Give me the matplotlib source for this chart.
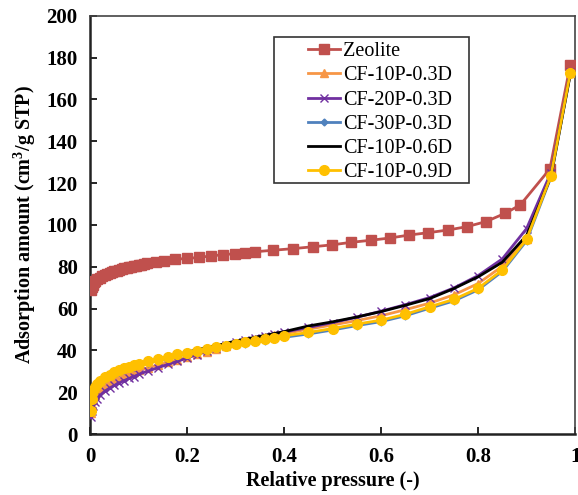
import matplotlib.pyplot as plt
from matplotlib.patches import Rectangle

plt.rcParams['font.family'] = ['Liberation Serif', 'DejaVu Serif']
plt.rcParams['mathtext.fontset'] = 'custom'
plt.rcParams['mathtext.rm'] = 'Liberation Serif'
plt.rcParams['mathtext.bf'] = 'Liberation Serif:bold'

# zeolite isotherm
p_zeo = [0.001, 0.003, 0.005, 0.008, 0.01, 0.015, 0.02, 0.025, 0.03, 0.035,
         0.04, 0.045, 0.05, 0.055, 0.06, 0.065, 0.07, 0.075, 0.08, 0.085,
         0.09, 0.095, 0.1, 0.105, 0.11, 0.118, 0.136, 0.153, 0.175, 0.2,
         0.225, 0.249, 0.274, 0.299, 0.32, 0.34, 0.377, 0.419, 0.46, 0.499,
         0.538, 0.579, 0.619, 0.658, 0.697, 0.738, 0.777, 0.816, 0.856, 0.887,
         0.948, 0.99]
q_zeo = [69.0, 70.5, 71.5, 72.5, 73.0, 74.0, 74.8, 75.4, 76.0, 76.5,
         77.0, 77.4, 77.8, 78.2, 78.6, 78.9, 79.2, 79.5, 79.8, 80.0,
         80.3, 80.5, 80.8, 81.0, 81.3, 81.8, 82.4, 82.9, 83.6, 84.0,
         84.5, 85.2, 85.8, 86.3, 86.7, 87.2, 87.9, 88.7, 89.6, 90.5,
         91.7, 92.7, 93.8, 95.2, 96.3, 97.6, 99.2, 101.6, 105.6, 109.6,
         126.8, 176.6]

# composite foams, common pressure points
p_cf = [0.001, 0.003, 0.006, 0.01, 0.015, 0.02, 0.03, 0.04, 0.05, 0.06,
        0.07, 0.08, 0.09, 0.1, 0.12, 0.14, 0.16, 0.18, 0.2, 0.22,
        0.24, 0.26, 0.28, 0.3, 0.32, 0.34, 0.36, 0.38, 0.4, 0.45,
        0.5, 0.55, 0.6, 0.65, 0.7, 0.75, 0.8, 0.85, 0.9, 0.95, 0.99]

q_10p_03d = [10.0, 14.0, 16.5, 18.5, 20.0, 21.5, 23.5, 25.0, 26.2, 27.2,
             28.2, 29.0, 29.8, 30.5, 31.8, 33.0, 34.3, 35.5, 36.8, 38.1,
             39.5, 40.9, 42.3, 43.6, 44.6, 45.5, 46.4, 47.2, 48.0, 50.2,
             52.2, 54.3, 56.6, 59.5, 62.6, 66.6, 72.0, 80.3, 93.5, 124.0, 172.5]
q_20p_03d = [8.0, 11.0, 13.5, 15.5, 17.0, 18.5, 20.5, 22.0, 23.3, 24.5,
             25.6, 26.6, 27.5, 28.6, 30.2, 31.8, 33.3, 34.8, 36.4, 38.0,
             39.6, 41.0, 42.6, 43.9, 45.0, 46.0, 47.0, 47.9, 48.8, 51.0,
             53.3, 55.9, 58.8, 61.9, 65.3, 69.9, 75.8, 83.8, 98.3, 125.0, 173.0]
q_30p_03d = [10.5, 16.3, 19.8, 21.8, 23.5, 24.6, 26.4, 27.8, 28.9, 29.9,
             30.8, 31.5, 32.2, 32.9, 34.1, 35.2, 36.3, 37.4, 38.3, 39.2,
             40.1, 41.0, 41.6, 42.4, 43.2, 43.9, 44.6, 45.4, 46.3, 47.9,
             49.8, 51.9, 53.8, 56.6, 60.2, 63.7, 69.0, 77.8, 92.5, 122.8, 172.2]
q_10p_06d = [12.0, 16.5, 19.8, 22.0, 23.7, 24.8, 26.6, 28.0, 29.1, 30.1,
             31.0, 31.8, 32.5, 33.2, 34.5, 35.7, 36.9, 38.1, 39.2, 40.3,
             41.3, 42.3, 43.4, 44.5, 45.4, 46.3, 47.2, 48.1, 49.0, 51.7,
             53.7, 56.0, 58.6, 61.6, 64.8, 69.6, 75.2, 82.2, 95.0, 123.0, 172.0]
q_10p_09d = [11.0, 17.0, 20.5, 22.5, 24.2, 25.3, 27.1, 28.5, 29.6, 30.6,
             31.5, 32.2, 32.9, 33.6, 34.8, 35.9, 37.0, 38.1, 39.0, 39.9,
             40.8, 41.7, 42.3, 43.1, 43.9, 44.6, 45.3, 46.1, 47.0, 48.6,
             50.5, 52.6, 54.5, 57.3, 60.9, 64.4, 69.7, 78.5, 93.2, 123.4, 172.7]

fig = plt.figure(figsize=(5.78, 4.95), dpi=100)
ax = fig.add_axes([0.156, 0.123, 0.839, 0.845])

ax.plot(p_zeo, q_zeo, color='#C0504D', marker='s', markersize=7, lw=2,
        label='Zeolite', zorder=3)
ax.plot(p_cf, q_10p_03d, color='#F79646', marker='^', markersize=6, lw=2,
        label='CF-10P-0.3D', zorder=4)
ax.plot(p_cf, q_20p_03d, color='#7030A0', marker='x', markersize=6, lw=2,
        mew=1, label='CF-20P-0.3D', zorder=4)
ax.plot(p_cf, q_30p_03d, color='#4F81BD', marker='D', markersize=3.5, lw=2,
        label='CF-30P-0.3D', zorder=4)
ax.plot(p_cf, q_10p_06d, color='black', lw=2, label='CF-10P-0.6D', zorder=5)
ax.plot(p_cf, q_10p_09d, color='#FFC000', marker='o', markersize=7, lw=2,
        label='CF-10P-0.9D', zorder=6)

ax.set_xlim(0, 1)
ax.set_ylim(0, 200)
ax.set_xticks([0, 0.2, 0.4, 0.6, 0.8, 1])
ax.set_xticklabels(['0', '0.2', '0.4', '0.6', '0.8', '1'])
ax.set_yticks(range(0, 201, 20))
ax.tick_params(direction='in', length=5, width=1.2, labelsize=15, pad=9)
for lbl in ax.get_xticklabels() + ax.get_yticklabels():
    lbl.set_fontweight('bold')
for side in ['left', 'bottom']:
    ax.spines[side].set_linewidth(1.8)
    ax.spines[side].set_color('#222222')
for side in ['top', 'right']:
    ax.spines[side].set_linewidth(1.2)
    ax.spines[side].set_color('#444444')

ax.set_xlabel('Relative pressure (-)', fontsize=14.5, fontweight='bold', labelpad=3)
ax.set_ylabel(r'Adsorption amount (cm$^\mathbf{3}$/g STP)', fontsize=14.5,
              fontweight='bold', labelpad=6)

# legend box drawn separately, wider on the left like the Excel one
box = Rectangle((0.379, 0.600), 0.402, 0.350, transform=ax.transAxes,
                facecolor='white', edgecolor='#333333', lw=1.2, zorder=7)
ax.add_patch(box)
leg = ax.legend(loc='upper left', bbox_to_anchor=(0.449, 0.937), fontsize=14.5,
                frameon=False, handlelength=1.6, handletextpad=0.15,
                borderpad=0, labelspacing=0.25, borderaxespad=0)
leg.set_zorder(8)

fig.savefig('out.png', dpi=100)
